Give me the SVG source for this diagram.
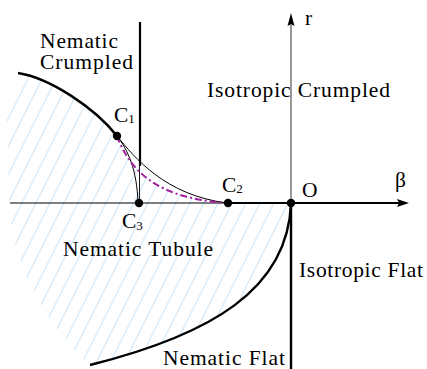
<svg xmlns="http://www.w3.org/2000/svg" width="427" height="369" viewBox="0 0 427 369" font-family="'Liberation Serif', 'Times New Roman', Times, serif">
<style>
text{font-family:'Liberation Serif', 'Times New Roman', Times, serif;font-size:21.5px;fill:#000}
.sub{font-size:13px}
.thick{fill:none;stroke:#000;stroke-width:2.4}
.thin{fill:none;stroke:#000;stroke-width:1}
.hatch{fill:none;stroke:#a8d6f2;stroke-width:0.7}
.dot{fill:#000}
</style>
<defs>
<clipPath id="hr">
<path d="M18,73 C50,78 95,108 117,136 C130,170 155,198 227,203 L291,203 C288,290 210,335 90,365 C45,325 12,262 9,205 L7,118 Z"/>
</clipPath>
</defs>
<rect width="427" height="369" fill="#fff"/>
<g id="hatching" clip-path="url(#hr)">
<path class="hatch" d="M-159,369L-4.5,60M-145,369L9.5,60M-131,369L23.5,60M-117,369L37.5,60M-103,369L51.5,60M-89,369L65.5,60M-75,369L79.5,60M-61,369L93.5,60M-47,369L107.5,60M-33,369L121.5,60M-19,369L135.5,60M-5,369L149.5,60M9,369L163.5,60M23,369L177.5,60M37,369L191.5,60M51,369L205.5,60M65,369L219.5,60M79,369L233.5,60M93,369L247.5,60M107,369L261.5,60M121,369L275.5,60M135,369L289.5,60M149,369L303.5,60M163,369L317.5,60M177,369L331.5,60M191,369L345.5,60M205,369L359.5,60"/>
</g>
<g id="connectors">
<line class="thin" x1="10" y1="203" x2="228" y2="203"/>
<line x1="228" y1="203" x2="400" y2="203" stroke="#000" stroke-width="2.2"/>
<path d="M409,203 L397,199 L399,203 L397,207 Z" fill="#000"/>
<line x1="291" y1="203" x2="291" y2="22" stroke="#808080" stroke-width="1.6"/>
<path d="M291,13 L287.5,26 L291,24 L294.5,26 Z" fill="#000"/>
<line x1="291" y1="203" x2="291" y2="369" stroke="#000" stroke-width="2.4"/>
<line x1="140" y1="22" x2="140" y2="166" stroke="#000" stroke-width="2.2"/>
<line x1="139.5" y1="166" x2="139.5" y2="203" stroke="#000" stroke-width="0.9"/>
<path class="thick" d="M18,73 C50,78 95,108 117,136"/>
<path class="thin" d="M117,136 C135,158 165,195 227,203"/>
<path class="thin" d="M117,136 C128,150 137,170 138,203"/>
<path d="M117,136 C130,170 155,198 227,203" fill="none" stroke="#a020a0" stroke-width="2" stroke-dasharray="7,3,2,3"/>
<path class="thick" d="M291,203 C288,290 210,335 90,365"/>
</g>
<g id="C1"><circle class="dot" cx="117" cy="136" r="4.2"/><text font-family="Liberation Serif" x="114" y="122">C<tspan class="sub" dy="1">1</tspan></text></g>
<g id="C2"><circle class="dot" cx="228" cy="203" r="4.2"/><text font-family="Liberation Serif" x="222" y="192">C<tspan class="sub" dy="1">2</tspan></text></g>
<g id="C3"><circle class="dot" cx="139" cy="203" r="4.2"/><text font-family="Liberation Serif" x="122" y="228">C<tspan class="sub" dy="2">3</tspan></text></g>
<g id="O"><circle class="dot" cx="291" cy="203" r="4.2"/><text font-family="Liberation Serif" x="302" y="197">O</text></g>
<g id="beta"><text font-family="Liberation Serif" x="395" y="187">β</text></g>
<g id="r"><text font-family="Liberation Serif" x="305" y="25">r</text></g>
<g id="nematic-crumpled"><text font-family="Liberation Serif" x="40" y="48" textLength="78">Nematic</text><text font-family="Liberation Serif" x="40" y="68.5" textLength="93">Crumpled</text></g>
<g id="isotropic-crumpled"><text font-family="Liberation Serif" x="207" y="97" textLength="183">Isotropic Crumpled</text></g>
<g id="nematic-tubule"><text font-family="Liberation Serif" x="63" y="256" textLength="150">Nematic Tubule</text></g>
<g id="isotropic-flat"><text font-family="Liberation Serif" x="299" y="277" textLength="124">Isotropic Flat</text></g>
<g id="nematic-flat"><text font-family="Liberation Serif" x="163" y="365" textLength="122">Nematic Flat</text></g>
</svg>
